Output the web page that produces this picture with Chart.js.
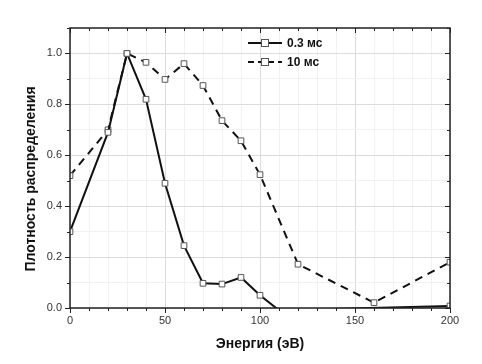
<!DOCTYPE html>
<html>
<head>
<meta charset="utf-8">
<script src="https://cdn.jsdelivr.net/npm/chart.js@4/dist/chart.umd.min.js"></script>
<style>
html,body{margin:0;padding:0;background:#fff;}
#wrap{width:482px;height:364px;position:relative;}
</style>
</head>
<body>
<div id="wrap"><canvas id="c" width="482" height="364"></canvas></div>
<script>
// Data
const seriesLabels = ['0.3 мс', '10 мс'];
const energy03 = [0, 20, 30, 40, 50, 60, 70, 80, 90, 100, 110, 200];
const density03 = [0.30, 0.69, 1.00, 0.82, 0.49, 0.245, 0.097, 0.094, 0.12, 0.05, -0.009, 0.008];
const energy10 = [0, 20, 30, 40, 50, 60, 70, 80, 90, 100, 120, 160, 200];
const density10 = [0.52, 0.70, 1.00, 0.965, 0.898, 0.96, 0.874, 0.736, 0.657, 0.524, 0.172, 0.021, 0.18];
const xMajorTicks = [0, 50, 100, 150, 200];
const yMajorTicks = [0.0, 0.2, 0.4, 0.6, 0.8, 1.0];
const xTitle = 'Энергия (эВ)';
const yTitle = 'Плотность распределения';

const FONT = '"Liberation Sans", Arial, sans-serif';

function pts(xs, ys) { return xs.map((x, i) => ({ x: x, y: ys[i] })); }

const radiusFn = (ctx) => (ctx.raw && ctx.raw.y < 0) ? 0 : 4;

const framePlugin = {
  id: 'frame',
  afterDatasetsDraw(chart) {
    const { ctx, chartArea: a, scales } = chart;
    ctx.save();
    ctx.strokeStyle = '#222';
    ctx.lineWidth = 1.5;
    ctx.strokeRect(a.left, a.top, a.right - a.left, a.bottom - a.top);
    ctx.lineWidth = 1;
    // x ticks
    for (let v = 0; v <= 200; v += 10) {
      const px = Math.round(scales.x.getPixelForValue(v)) + 0.5;
      const major = xMajorTicks.includes(v);
      const len = major ? 5 : 3;
      ctx.beginPath();
      ctx.moveTo(px, a.bottom); ctx.lineTo(px, a.bottom + len);
      ctx.moveTo(px, a.top); ctx.lineTo(px, a.top + len);
      ctx.stroke();
    }
    for (let i = 0; i <= 11; i++) {
      const v = i / 10;
      const py = Math.round(scales.y.getPixelForValue(v)) + 0.5;
      const major = i % 2 === 0;
      const len = major ? 5 : 3;
      ctx.beginPath();
      ctx.moveTo(a.left - len, py); ctx.lineTo(a.left, py);
      ctx.moveTo(a.right, py); ctx.lineTo(a.right - len, py);
      ctx.stroke();
    }
    // y axis title (drawn here so it can sit slightly below centre, as in the reference)
    ctx.save();
    ctx.translate(31, 179);
    ctx.rotate(-Math.PI / 2);
    ctx.fillStyle = '#111';
    ctx.font = 'bold 14px ' + FONT;
    ctx.textAlign = 'center';
    ctx.textBaseline = 'middle';
    ctx.fillText(yTitle, 0, 0);
    ctx.restore();
    // legend inside plot
    const lx0 = 248, lx1 = 282;
    const rows = [43, 62];
    chart.data.datasets.forEach((ds, i) => {
      const y = rows[i];
      ctx.strokeStyle = '#111';
      ctx.lineWidth = 2;
      ctx.setLineDash(i === 0 ? [] : [6, 4]);
      ctx.beginPath();
      ctx.moveTo(lx0, y); ctx.lineTo(lx1, y);
      ctx.stroke();
      ctx.setLineDash([]);
      ctx.fillStyle = '#fff';
      ctx.strokeStyle = '#555';
      ctx.lineWidth = 1;
      ctx.fillRect(261, y - 4, 8, 8);
      ctx.strokeRect(261.5, y - 3.5, 7, 7);
      ctx.fillStyle = '#111';
      ctx.font = 'bold 12px ' + FONT;
      ctx.textBaseline = 'middle';
      ctx.textAlign = 'left';
      ctx.fillText(ds.label, 287, y + 0.5);
    });
    ctx.restore();
  }
};

new Chart(document.getElementById('c'), {
  type: 'line',
  data: {
    datasets: [
      {
        label: seriesLabels[0],
        data: pts(energy03, density03),
        borderColor: '#111',
        borderWidth: 2,
        tension: 0,
        pointStyle: 'rect',
        pointRadius: radiusFn,
        pointBackgroundColor: '#fff',
        pointBorderColor: '#555',
        pointBorderWidth: 1
      },
      {
        label: seriesLabels[1],
        data: pts(energy10, density10),
        borderColor: '#111',
        borderWidth: 2,
        borderDash: [8, 6],
        tension: 0,
        pointStyle: 'rect',
        pointRadius: radiusFn,
        pointBackgroundColor: '#fff',
        pointBorderColor: '#555',
        pointBorderWidth: 1
      }
    ]
  },
  options: {
    responsive: false,
    animation: false,
    layout: { padding: { top: 28, right: 32, left: 0, bottom: 0 } },
    plugins: { legend: { display: false }, tooltip: { enabled: false } },
    scales: {
      x: {
        type: 'linear',
        min: 0, max: 200,
        afterFit(s) { s.height = 56; },
        ticks: {
          stepSize: 10,
          autoSkip: false,
          maxRotation: 0,
          padding: 6,
          color: '#333',
          font: { family: FONT, size: 11 },
          callback: (v) => xMajorTicks.includes(v) ? String(v) : ''
        },
        grid: {
          drawTicks: false,
          color: (c) => xMajorTicks.includes(c.tick.value) ? '#dcdcdc' : '#f1f1f1',
          lineWidth: 1
        },
        border: { display: false },
        title: {
          display: true,
          text: xTitle,
          color: '#111',
          font: { family: FONT, size: 14, weight: 'bold' },
          padding: { top: 4, bottom: 11 }
        }
      },
      y: {
        type: 'linear',
        min: 0, max: 1.1,
        afterFit(s) { s.width = 70; },
        ticks: {
          stepSize: 0.1,
          autoSkip: false,
          padding: 8,
          color: '#333',
          font: { family: FONT, size: 11 },
          callback: (v) => {
            const r = Math.round(v * 10);
            return (r % 2 === 0 && r <= 10) ? (r / 10).toFixed(1) : '';
          }
        },
        grid: {
          drawTicks: false,
          color: (c) => {
            const r = Math.round(c.tick.value * 10);
            return (r % 2 === 0) ? '#dcdcdc' : '#f1f1f1';
          },
          lineWidth: 1
        },
        border: { display: false },
        title: { display: false }
      }
    }
  },
  plugins: [framePlugin]
});
</script>
</body>
</html>
